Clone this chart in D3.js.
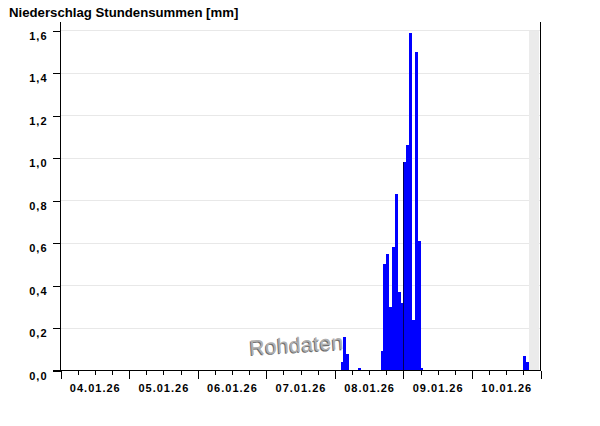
<!DOCTYPE html>
<html>
<head>
<meta charset="utf-8">
<script src="https://cdn.jsdelivr.net/npm/d3@7"></script>
<style>
body { margin: 0; background: #fff; }
svg { display: block; font-family: "Liberation Sans", Arial, sans-serif; }
</style>
</head>
<body>
<div id="chart"></div>
<script>
// Niederschlag Stundensummen: hourly precipitation bars over one week

const hourStarts = [
    "2026-01-08T02:00", "2026-01-08T03:00", "2026-01-08T04:00", "2026-01-08T08:00",
    "2026-01-08T16:00", "2026-01-08T17:00", "2026-01-08T18:00", "2026-01-08T19:00",
    "2026-01-08T20:00", "2026-01-08T21:00", "2026-01-08T22:00", "2026-01-08T23:00",
    "2026-01-09T00:00", "2026-01-09T01:00", "2026-01-09T02:00", "2026-01-09T03:00",
    "2026-01-09T04:00", "2026-01-09T05:00", "2026-01-09T06:00",
    "2026-01-10T18:00", "2026-01-10T19:00"
];
const precipMm = [
    0.04, 0.16, 0.08, 0.01,
    0.09, 0.50, 0.55, 0.30,
    0.58, 0.83, 0.37, 0.32,
    0.98, 1.06, 1.59, 0.24,
    1.50, 0.61, 0.01,
    0.07, 0.04
];
const yTicks = [0, 0.2, 0.4, 0.6, 0.8, 1.0, 1.2, 1.4, 1.6];
const dayLabels = ["04.01.26", "05.01.26", "06.01.26", "07.01.26", "08.01.26", "09.01.26", "10.01.26"];
const rangeStart = "2026-01-04T00:00";
const rangeEnd = "2026-01-11T00:00";
const nowStart = "2026-01-10T20:00";
const nowEnd = "2026-01-10T23:20";

const width = 600;
const height = 426;

const parseTime = d3.timeParse("%Y-%m-%dT%H:%M");
const parseDay = d3.timeParse("%d.%m.%y");
const fmtComma = d => d3.format(".1f")(d).replace(".", ",");

const bars = hourStarts.map((t, i) => ({ t: parseTime(t), v: precipMm[i] }));

const svg = d3.select("#chart")
    .append("svg")
    .attr("width", width)
    .attr("height", height);

const x = d3.scaleTime()
    .domain([parseTime(rangeStart), parseTime(rangeEnd)])
    .range([60.5, 540.5]);

const y = d3.scaleLinear()
    .domain([0, 1.6])
    .range([370.5, 30.5]);

// title
svg.append("text")
    .attr("x", 9)
    .attr("y", 17)
    .attr("font-size", "13.2px")
    .attr("font-weight", "bold")
    .attr("fill", "#000")
    .text("Niederschlag Stundensummen [mm]");

// horizontal grid
svg.append("g")
    .selectAll("line")
    .data(yTicks.filter(d => d > 0))
    .enter().append("line")
    .attr("x1", x.range()[0])
    .attr("x2", x.range()[1])
    .attr("y1", d => y(d))
    .attr("y2", d => y(d))
    .attr("stroke", "#e8e8e8")
    .attr("shape-rendering", "crispEdges");

// grey band for the not yet measured part
svg.append("rect")
    .attr("x", x(parseTime(nowStart)))
    .attr("y", y(1.6))
    .attr("width", x(parseTime(nowEnd)) - x(parseTime(nowStart)))
    .attr("height", y(0) - y(1.6))
    .attr("fill", "#ebebeb")
    .attr("shape-rendering", "crispEdges");

// watermark
const wm = svg.append("g")
    .attr("transform", "translate(297,352) rotate(-3.5)")
    .attr("font-size", "21px")
    .attr("letter-spacing", "0.4px")
    .attr("text-anchor", "middle");
wm.append("text")
    .attr("x", -1)
    .attr("y", 1)
    .attr("fill", "#6e6e6e")
    .text("Rohdaten");
wm.append("text")
    .attr("fill", "#b0b0b0")
    .text("Rohdaten");

// bars
svg.append("g")
    .selectAll("rect")
    .data(bars)
    .enter().append("rect")
    .attr("x", d => x(d.t))
    .attr("y", d => y(d.v))
    .attr("width", d => x(d3.timeHour.offset(d.t, 1)) - x(d.t))
    .attr("height", d => y(0) - y(d.v))
    .attr("fill", "#0000ff")
    .attr("shape-rendering", "crispEdges");

// dark day separator where a bar starts at midnight
svg.append("g")
    .selectAll("line")
    .data(bars.filter(d => d.t.getHours() === 0))
    .enter().append("line")
    .attr("x1", d => Math.round(x(d.t)) + 0.5)
    .attr("x2", d => Math.round(x(d.t)) + 0.5)
    .attr("y1", y(0))
    .attr("y2", d => y(d.v))
    .attr("stroke", "#00005a")
    .attr("shape-rendering", "crispEdges");

// y axis
const yAxis = svg.append("g")
    .attr("transform", `translate(${x.range()[0]},0)`)
    .call(d3.axisLeft(y).tickValues(yTicks).tickSize(8).tickPadding(5).tickFormat(fmtComma));
yAxis.select(".domain").remove();
yAxis.selectAll("line").attr("stroke", "#000").attr("shape-rendering", "crispEdges");
yAxis.selectAll("text")
    .attr("dy", "0.78em")
    .attr("font-size", "11px")
    .attr("font-weight", "bold")
    .attr("letter-spacing", "1px")
    .attr("font-family", "\"Liberation Sans\", Arial, sans-serif")
    .attr("fill", "#000");

// x axis: minor 6h ticks and major day ticks
const xMinor = svg.append("g")
    .attr("transform", `translate(0,${y(0)})`)
    .call(d3.axisBottom(x).ticks(d3.timeHour.every(6)).tickSize(4).tickFormat(""));
xMinor.select(".domain").remove();
const xMajor = svg.append("g")
    .attr("transform", `translate(0,${y(0)})`)
    .call(d3.axisBottom(x).ticks(d3.timeDay.every(1)).tickSize(8).tickFormat(""));
xMajor.select(".domain").remove();
svg.selectAll(".tick line").attr("stroke", "#000").attr("shape-rendering", "crispEdges");

svg.append("g")
    .selectAll("text")
    .data(dayLabels)
    .enter().append("text")
    .attr("x", d => x(d3.timeHour.offset(parseDay(d), 12)) + 0.5)
    .attr("y", 392)
    .attr("text-anchor", "middle")
    .attr("font-size", "11px")
    .attr("font-weight", "bold")
    .attr("letter-spacing", "1px")
    .attr("fill", "#000")
    .text(d => d);

// axis lines
const axisLines = [
    [x.range()[0] - 8, y(0), x.range()[1], y(0)],
    [x.range()[0], 22, x.range()[0], y(0)],
    [x.range()[1], 22, x.range()[1], y(0)]
];
svg.append("g")
    .selectAll("line")
    .data(axisLines)
    .enter().append("line")
    .attr("x1", d => d[0])
    .attr("y1", d => d[1])
    .attr("x2", d => d[2])
    .attr("y2", d => d[3])
    .attr("stroke", "#000")
    .attr("shape-rendering", "crispEdges");
</script>
</body>
</html>
